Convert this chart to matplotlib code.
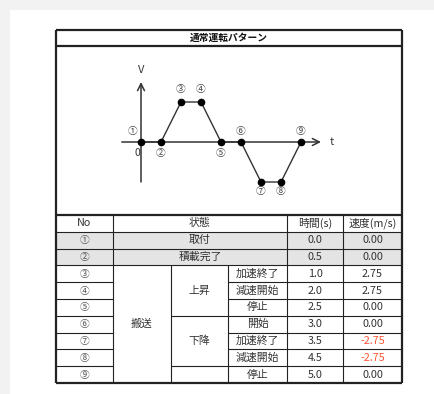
import matplotlib
matplotlib.use("Agg")
import matplotlib.pyplot as plt
from matplotlib.patches import Rectangle

plt.rcParams['font.family'] = ['Noto Sans CJK JP', 'DejaVu Sans']

# ---------------- data ----------------
title = "通常運転パターン"
step_labels = ["①", "②", "③", "④", "⑤", "⑥", "⑦", "⑧", "⑨"]
# schematic diagram (evenly spaced steps)
diagram_t = [0.0, 0.5, 1.0, 1.5, 2.0, 2.5, 3.0, 3.5, 4.0]
diagram_v = [0, 0, 1, 1, 0, 0, -1, -1, 0]
# table
header = ["No", "状態", "時間(s)", "速度(m/s)"]
state_simple = ["取付", "積載完了"]
group_main = "搬送"
group_up = "上昇"
group_down = "下降"
sub_states = ["加速終了", "減速開始", "停止", "開始", "加速終了", "減速開始", "停止"]
times = [0.0, 0.5, 1.0, 2.0, 2.5, 3.0, 3.5, 4.5, 5.0]
speeds = [0.00, 0.00, 2.75, 2.75, 0.00, 0.00, -2.75, -2.75, 0.00]

# ---------------- figure ----------------
W, H = 435, 394
fig = plt.figure(figsize=(W / 100, H / 100), dpi=100, facecolor="#f2f2f2")
bg = fig.add_axes([0, 0, 1, 1])
bg.set_xlim(0, W)
bg.set_ylim(H, 0)
bg.axis("off")
bg.add_patch(Rectangle((10, 10), W - 10, H - 10, facecolor="white", edgecolor="none", zorder=0))

LC = "#222222"
TC = "#333333"
thin = 0.8
thick = 1.6
fs = 7.8

L, R = 56, 402
TOP, TITLE_B, HEAD_T = 30, 46, 215
ROW_H = 16.8
cols = [56, 113, 171, 228, 287, 343, 402]

def hline(y, x0, x1, lw=thin):
    bg.plot([x0, x1], [y, y], color=LC, lw=lw, solid_capstyle="butt", zorder=3)

def vline(x, y0, y1, lw=thin):
    bg.plot([x, x], [y0, y1], color=LC, lw=lw, solid_capstyle="butt", zorder=3)

def txt(x, y, s, color=TC, size=fs, **kw):
    bg.text(x, y, s, color=color, fontsize=size, ha="center", va="center", zorder=4, **kw)

nrows = len(times)
row_top = [HEAD_T + ROW_H * (i + 1) for i in range(nrows)]
BOT = HEAD_T + ROW_H * (nrows + 1)

# gray rows
for i in range(2):
    bg.add_patch(Rectangle((L, row_top[i]), R - L, ROW_H, facecolor="#e4e4e4", edgecolor="none", zorder=1))

# title
txt((L + R) / 2, (TOP + TITLE_B) / 2, title, color="#111111", size=7, fontweight="bold")

# header
yh = HEAD_T + ROW_H / 2
txt((cols[0] + cols[1]) / 2, yh, header[0])
txt((cols[1] + cols[4]) / 2, yh, header[1])
txt((cols[4] + cols[5]) / 2, yh, header[2])
txt((cols[5] + cols[6]) / 2, yh, header[3])
hline(HEAD_T + ROW_H, L, R)

for i in range(nrows):
    yc = row_top[i] + ROW_H / 2
    txt((cols[0] + cols[1]) / 2, yc, step_labels[i], color="#555555", size=7)
    txt((cols[4] + cols[5]) / 2, yc, f"{times[i]:.1f}")
    sc = "#ff5533" if speeds[i] < 0 else TC
    txt((cols[5] + cols[6]) / 2, yc, f"{speeds[i]:.2f}", color=sc)
    if i < 2:
        txt((cols[1] + cols[4]) / 2, yc, state_simple[i])
    else:
        txt((cols[3] + cols[4]) / 2, yc, sub_states[i - 2])
    if i > 0:
        # row separator
        if i <= 2:
            hline(row_top[i], L, R)
        else:
            hline(row_top[i], L, cols[1])
            if i in (5, 8):
                hline(row_top[i], cols[2], R)
            else:
                hline(row_top[i], cols[3], R)

# merged group labels
g0, g1 = row_top[2], BOT
txt((cols[1] + cols[2]) / 2, (g0 + g1) / 2, group_main)
txt((cols[2] + cols[3]) / 2, (row_top[2] + row_top[5]) / 2, group_up)
txt((cols[2] + cols[3]) / 2, (row_top[5] + row_top[8]) / 2, group_down)

# vertical lines
vline(cols[1], HEAD_T, BOT)
vline(cols[4], HEAD_T, BOT)
vline(cols[5], HEAD_T, BOT)
vline(cols[2], row_top[2], BOT)
vline(cols[3], row_top[2], BOT)

# outer border and heavy separators
hline(TOP, L, R, thick)
hline(TITLE_B, L, R, thick)
hline(HEAD_T, L, R, thick)
hline(BOT, L, R, thick)
vline(L, TOP, BOT, thick)
vline(R, TOP, BOT, thick)

# ---------------- diagram ----------------
dx0, dx1, dy0, dy1 = 58, 400, 48, 213
ax = fig.add_axes([dx0 / W, 1 - dy1 / H, (dx1 - dx0) / W, (dy1 - dy0) / H])
px = 40.0
ox, oy = 141, 142
ax.set_xlim((dx0 - ox) / px, (dx1 - ox) / px)
ax.set_ylim(-(dy1 - oy) / px, (oy - dy0) / px)
ax.axis("off")

AC = "#333333"
ax.annotate("", xy=(4.5, 0), xytext=(-0.48, 0),
            arrowprops=dict(arrowstyle="->,head_length=0.5,head_width=0.25", color=AC, lw=1.1, shrinkA=0, shrinkB=0))
ax.annotate("", xy=(0, 1.5), xytext=(0, -1.0),
            arrowprops=dict(arrowstyle="->,head_length=0.5,head_width=0.25", color=AC, lw=1.1, shrinkA=0, shrinkB=0))
ax.text(4.78, 0, "t", fontsize=8, color=AC, ha="center", va="center")
ax.text(0.0, 1.8, "V", fontsize=8, color=AC, ha="center", va="center")
ax.text(-0.1, -0.27, "0", fontsize=7.5, color=AC, ha="center", va="center")

ax.plot(diagram_t, diagram_v, color="#333333", lw=1.0, marker="o", markersize=4.5,
        markerfacecolor="black", markeredgecolor="black", zorder=5)

offsets = [(-8, 11), (0, -11), (0, 13), (0, 13), (0, -11), (0, 11), (0, -9), (0, -9), (0, 11)]
for lab, t, v, (ddx, ddy) in zip(step_labels, diagram_t, diagram_v, offsets):
    ax.annotate(lab, (t, v), xytext=(ddx, ddy), textcoords="offset pixels",
                fontsize=7, color="#444444", ha="center", va="center")

fig.savefig("out.png", dpi=100, facecolor=fig.get_facecolor())
